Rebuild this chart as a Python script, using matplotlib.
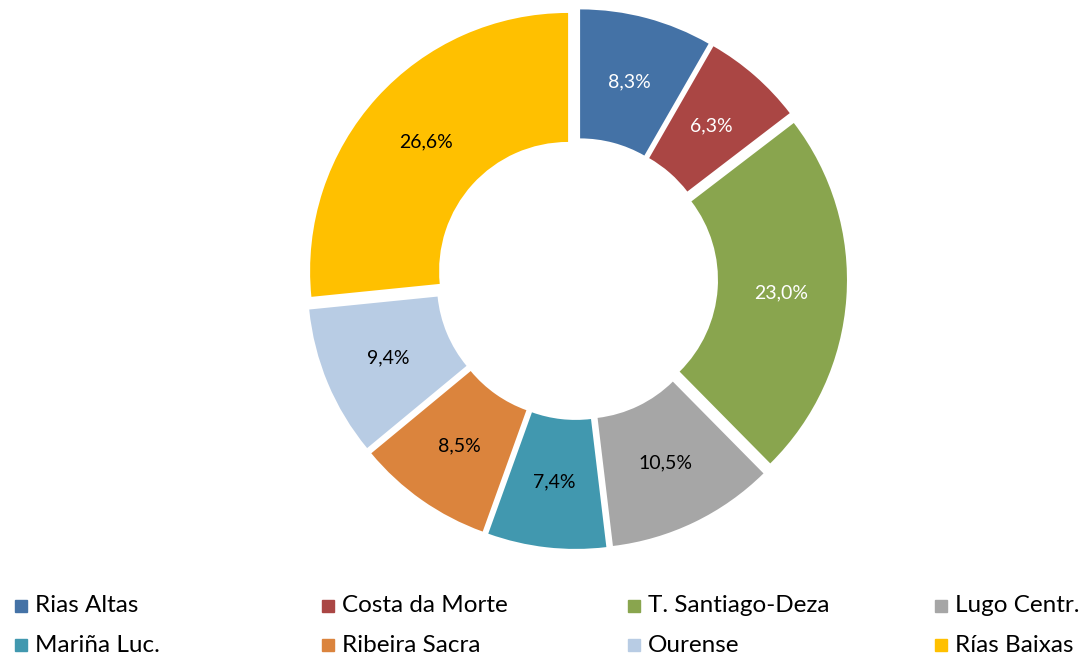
import matplotlib.pyplot as plt
from matplotlib.patches import Rectangle

# Data
labels = ["Rias Altas", "Costa da Morte", "T. Santiago-Deza", "Lugo Centr.",
          "Mariña Luc.", "Ribeira Sacra", "Ourense", "Rías Baixas"]
shares = [8.3, 6.3, 23.0, 10.5, 7.4, 8.5, 9.4, 26.6]
colors = ["#4472A6", "#AA4644", "#89A54E", "#A6A6A6",
          "#4198AF", "#DB843D", "#B8CCE4", "#FFC000"]
text_colors = ["white", "white", "white", "black",
               "black", "black", "black", "black"]

W, H = 1082, 655
fig = plt.figure(figsize=(W / 100, H / 100), dpi=100)
ax = fig.add_axes([0, 0, 1, 1])

# Donut (pixel coordinates, y up), slices exploded a little
# note: explode is an absolute offset here, in the same units as radius
radius = 258
wedges, texts, autotexts = ax.pie(
    shares,
    colors=colors,
    startangle=90,
    counterclock=False,
    center=(577, H - 279),
    radius=radius,
    explode=[12] * len(shares),
    autopct=lambda p: f"{p:.1f}%".replace(".", ","),
    pctdistance=0.745,
    wedgeprops=dict(width=129, edgecolor="none", linewidth=0),
    textprops=dict(fontsize=14, family=["Lato", "DejaVu Sans"]),
)
for t, c in zip(autotexts, text_colors):
    t.set_color(c)

ax.set_xlim(0, W)
ax.set_ylim(0, H)
ax.set_aspect("equal")
ax.axis("off")

# Legend: 2 rows x 4 columns
col_x = [15, 322, 628, 935]
row_y = [606, 645]
for i, (lab, col) in enumerate(zip(labels, colors)):
    x = col_x[i % 4]
    y = row_y[i // 4]
    fig.add_artist(Rectangle((x / W, (H - y - 6) / H), 12 / W, 12 / H,
                             transform=fig.transFigure, color=col))
    fig.text((x + 20) / W, (H - y) / H, lab, fontsize=17.5,
             family=["Lato", "DejaVu Sans"], va="center", ha="left")

fig.savefig("out.png", dpi=100)
